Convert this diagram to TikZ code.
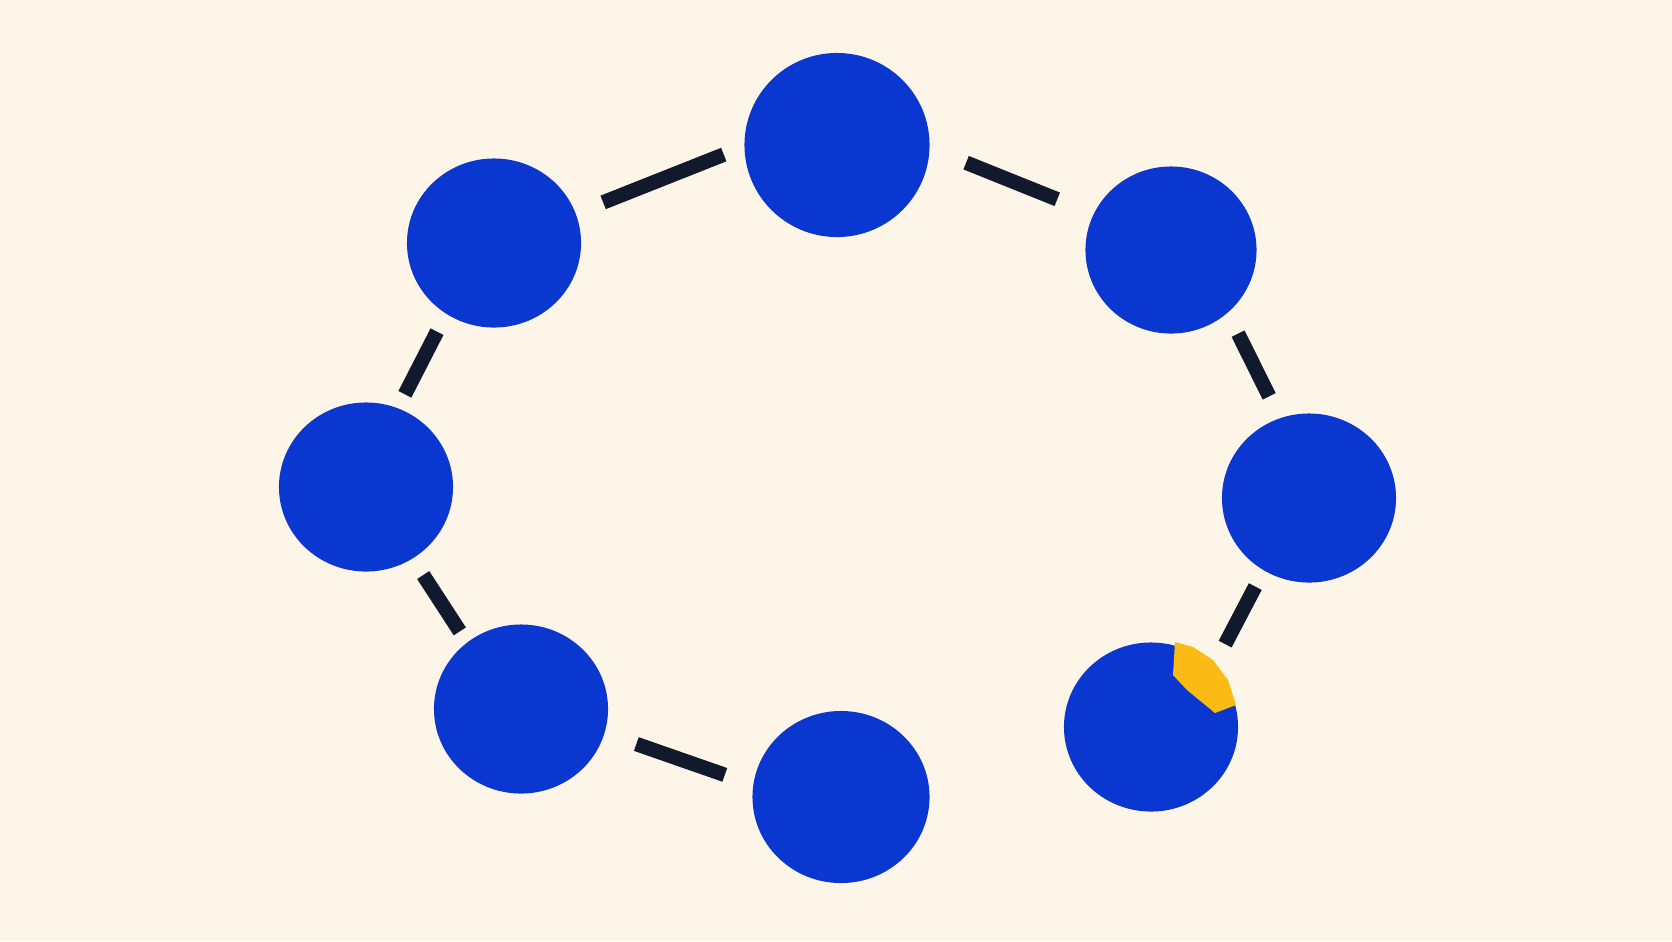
\documentclass[tikz,border=0pt]{standalone}
\usetikzlibrary{shapes.geometric}
\definecolor{sfondo}{HTML}{FDF6E8}
\definecolor{blu}{HTML}{0A37CF}
\definecolor{inchiostro}{HTML}{111A2D}
\definecolor{giallo}{HTML}{FBBA14}

\begin{document}
\begin{tikzpicture}[x=0.01cm,y=-0.01cm,
    pallino/.style={ellipse,fill=blu,inner sep=0pt,minimum width=1.74cm,minimum height=1.69cm},
    legame/.style={draw=inchiostro,line width=0.145cm}]
    % Sfondo
    \fill[sfondo] (0,0) rectangle (1672,941);
    \useasboundingbox (0,0) rectangle (1672,941);

    % Pallini
    \node[pallino,minimum width=1.85cm,minimum height=1.84cm] (alto) at (837,145) {};
    \node[pallino] (altosx) at (494,243) {};
    \node[pallino,minimum width=1.71cm,minimum height=1.67cm] (altodx) at (1171,250) {};
    \node[pallino] (sx) at (366,487) {};
    \node[pallino] (dx) at (1309,498) {};
    \node[pallino] (bassosx) at (521,709) {};
    \node[pallino,minimum width=1.77cm,minimum height=1.72cm] (basso) at (841,797) {};
    \node[pallino] (bassodx) at (1151,727) {};

    % Legami
    \draw[legame,shorten <=0.29cm,shorten >=0.215cm] (altosx.20) -- (alto.181);
    \draw[legame,shorten <=0.387cm,shorten >=0.387cm] (alto.-2) -- (altodx.155);
    \draw[legame,shorten <=0.227cm,shorten >=0.238cm] (altodx.-48) -- (dx.110);
    \draw[legame,shorten <=0.177cm,shorten >=0.257cm] (dx.238) -- (bassodx.44);
    \draw[legame,shorten <=0.295cm,shorten >=0.33cm] (basso.172) -- (bassosx.-16);
    \draw[legame,shorten <=0.127cm,shorten >=0.19cm] (bassosx.129) -- (sx.-57);
    \draw[legame,shorten <=0.15cm,shorten >=0.195cm] (sx.68) -- (altosx.-124);

    % Pezzo giallo
    \fill[giallo] (1175,642) -- (1173,675) -- (1187,690) -- (1215,713)
        -- (1236,705) -- (1228,680) -- (1213,660) -- (1193,647) -- cycle;
\end{tikzpicture}
\end{document}
